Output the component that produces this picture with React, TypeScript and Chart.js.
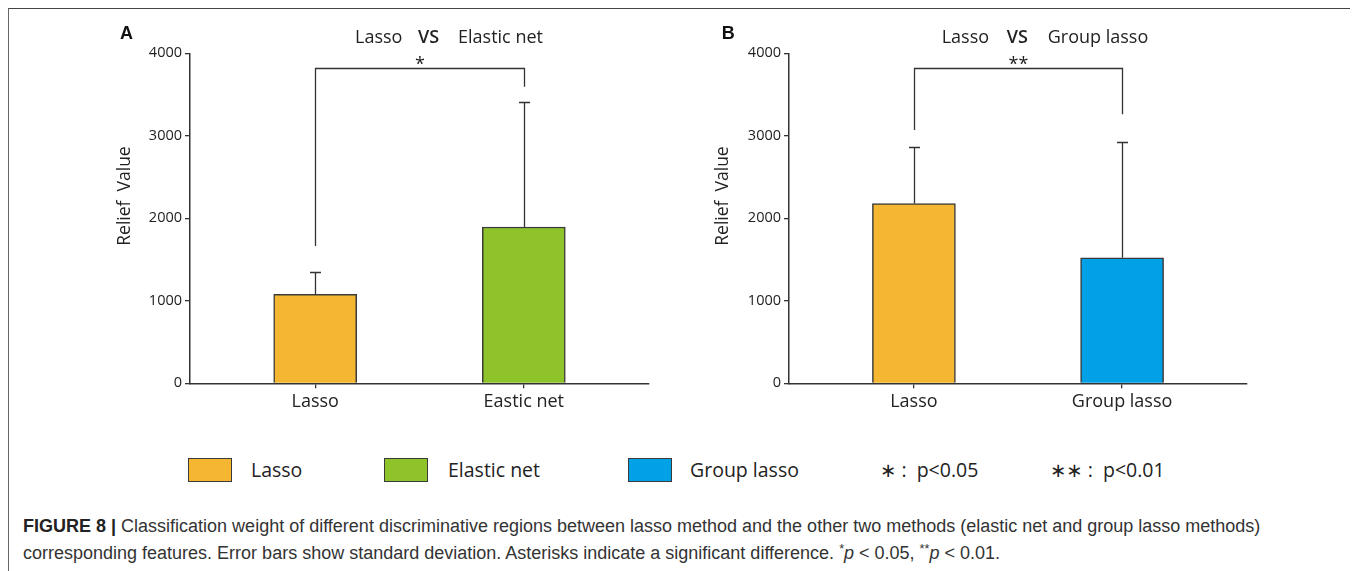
import React, { useEffect, useRef } from 'react';
import { Chart, registerables } from 'chart.js';

Chart.register(...registerables);

// ---------- data ----------
const yTicks = [0, 1000, 2000, 3000, 4000];
const yAxisTitle = 'Relief  Value';

const panelALetter = 'A';
const panelACategories = ['Lasso', 'Eastic net'];
const panelAMeans = [1079, 1895];
const panelASD = [274, 1511];
const panelAColors = ['#F5B731', '#8EC329'];
const panelATitle = ['Lasso', 'VS', 'Elastic net'];
const panelASig = '*';
const panelABracket = [3818, 1665, 3595]; // top, left end, right end

const panelBLetter = 'B';
const panelBCategories = ['Lasso', 'Group lasso'];
const panelBMeans = [2179, 1522];
const panelBSD = [685, 1403];
const panelBColors = ['#F5B731', '#00A1E6'];
const panelBTitle = ['Lasso', 'VS', 'Group lasso'];
const panelBSig = '**';
const panelBBracket = [3818, 3070, 3261];

const legendLabels = ['Lasso', 'Elastic net', 'Group lasso'];
const legendColors = ['#F5B731', '#8EC329', '#00A1E6'];
const sigNotes = ['\u2217 :  p<0.05', '\u2217\u2217 :  p<0.01'];

const captionLine1 =
  'Classification weight of different discriminative regions between lasso method and the other two methods (elastic net and group lasso methods)';

// ---------- layout ----------
const CANVAS_H = 420;
const AXIS_FONT = '"Open Sans", "DejaVu Sans", sans-serif';

const layoutA = {
  left: 0,
  width: 660,
  yAxisWidth: 181,
  padRight: 20,
  titleX: [346, 409, 449],
  letterX: 111,
  letterY: 29.7,
  yTitleX: 116,
};
const layoutB = {
  left: 660,
  width: 680,
  yAxisWidth: 120,
  padRight: 102,
  titleX: [272.7, 337.7, 378.7],
  letterX: 52.7,
  letterY: 30,
  yTitleX: 54,
};

const annotPlugin = {
  id: 'annot',
  afterDatasetsDraw(chart: any, _args: any, o: any) {
    const ctx = chart.ctx;
    const xs = chart.scales.x;
    const ys = chart.scales.y;
    ctx.save();
    ctx.strokeStyle = '#333';
    ctx.lineWidth = 1.3;
    // error bars (upper whisker)
    o.means.forEach((m: number, i: number) => {
      const px = Math.round(xs.getPixelForValue(i)) + 0.5;
      const y0 = ys.getPixelForValue(m);
      const y1 = Math.round(ys.getPixelForValue(m + o.sd[i])) + 0.5;
      ctx.beginPath();
      ctx.moveTo(px, y0);
      ctx.lineTo(px, y1);
      ctx.moveTo(px - 5.5, y1);
      ctx.lineTo(px + 5.5, y1);
      ctx.stroke();
    });
    // significance bracket
    const x0 = Math.round(xs.getPixelForValue(0)) + 0.5;
    const x1 = Math.round(xs.getPixelForValue(1)) + 0.5;
    const yt = Math.round(ys.getPixelForValue(o.bracket[0])) + 0.5;
    ctx.beginPath();
    ctx.moveTo(x0, ys.getPixelForValue(o.bracket[1]));
    ctx.lineTo(x0, yt);
    ctx.lineTo(x1, yt);
    ctx.lineTo(x1, ys.getPixelForValue(o.bracket[2]));
    ctx.stroke();

    ctx.fillStyle = '#222';
    ctx.textBaseline = 'alphabetic';
    ctx.textAlign = 'center';
    ctx.font = `18px ${AXIS_FONT}`;
    ctx.fillText(o.sig, (x0 + x1) / 2, yt + 1);

    // title pieces
    ctx.textAlign = 'left';
    o.title.forEach((t: string, i: number) => {
      ctx.font = i === 1 ? `600 18px ${AXIS_FONT}` : `18px ${AXIS_FONT}`;
      ctx.fillText(t, o.titleX[i], 33.7);
    });

    // panel letter
    ctx.font = 'bold 18px "Liberation Sans", Arial, sans-serif';
    ctx.fillStyle = '#111';
    ctx.fillText(o.letter, o.letterX, o.letterY);

    // y-axis title
    ctx.save();
    ctx.translate(o.yTitleX, 187);
    ctx.rotate(-Math.PI / 2);
    ctx.textAlign = 'center';
    ctx.textBaseline = 'middle';
    ctx.font = `17.5px ${AXIS_FONT}`;
    ctx.fillStyle = '#222';
    ctx.fillText(yAxisTitle, 0, 0);
    ctx.restore();

    ctx.restore();
  },
};

function Panel(props: any) {
  const { lay, cats, means, sd, colors, title, sig, bracket, letter } = props;
  const ref = useRef<HTMLCanvasElement | null>(null);
  useEffect(() => {
    const gridOpts = {
      display: true,
      drawOnChartArea: false,
      drawTicks: true,
      tickLength: 5,
      color: '#333',
      lineWidth: 1.3,
      offset: false,
    };
    const chart = new Chart(ref.current as HTMLCanvasElement, {
      type: 'bar',
      data: {
        datasets: [
          {
            data: means.map((m: number, i: number) => ({ x: i, y: m })),
            backgroundColor: colors,
            borderColor: '#3a3a3a',
            borderWidth: 1.5,
            barThickness: 83,
          } as any,
        ],
      },
      plugins: [annotPlugin as any],
      options: {
        responsive: false,
        animation: false,
        events: [],
        layout: { padding: { top: 44.3, right: lay.padRight, left: 0, bottom: 0 } },
        plugins: {
          legend: { display: false },
          tooltip: { enabled: false },
          annot: {
            means,
            sd,
            bracket,
            sig,
            title,
            titleX: lay.titleX,
            letter,
            letterX: lay.letterX,
            letterY: lay.letterY,
            yTitleX: lay.yTitleX,
          },
        } as any,
        scales: {
          x: {
            type: 'linear',
            offset: false,
            min: -0.6,
            max: 1.6,
            afterBuildTicks: (s: any) => {
              s.ticks = cats.map((_: string, i: number) => ({ value: i }));
            },
            afterFit: (s: any) => {
              s.height = CANVAS_H - 374.3;
            },
            grid: gridOpts,
            border: { display: true, color: '#333', width: 1.5 },
            ticks: {
              callback: (v: any) => cats[v] ?? '',
              font: { family: AXIS_FONT, size: 18 },
              color: '#222',
              padding: 3,
              maxRotation: 0,
              autoSkip: false,
            },
          },
          y: {
            min: 0,
            max: 4000,
            afterBuildTicks: (s: any) => {
              s.ticks = yTicks.map((v) => ({ value: v }));
            },
            afterFit: (s: any) => {
              s.width = lay.yAxisWidth;
            },
            grid: gridOpts,
            border: { display: true, color: '#333', width: 1.5 },
            ticks: {
              callback: (v: any) => String(v),
              font: { family: AXIS_FONT, size: 14.5 },
              color: '#222',
              padding: 3,
            },
          },
        } as any,
      },
    });
    return () => chart.destroy();
  }, []);
  return (
    <canvas
      ref={ref}
      width={lay.width}
      height={CANVAS_H}
      style={{ position: 'absolute', left: lay.left, top: 0, width: lay.width, height: CANVAS_H }}
    />
  );
}

const legendBoxX = [179, 375, 619];
const legendTextX = [242, 439, 681];
const sigNoteX = [871, 1041];

export default function App() {
  useEffect(() => {
    document.documentElement.style.overflow = 'hidden';
    document.body.style.overflow = 'hidden';
  }, []);
  const legendText: React.CSSProperties = {
    position: 'absolute',
    top: 449,
    height: 24,
    lineHeight: '24px',
    fontFamily: AXIS_FONT,
    fontSize: 19.5,
    color: '#222',
    whiteSpace: 'nowrap',
  };
  const sup: React.CSSProperties = { fontSize: '0.7em', verticalAlign: 'top', lineHeight: '18px' };
  return (
    <div
      style={{
        position: 'relative',
        width: 1346,
        height: 600,
        borderTop: '1px solid #444',
        borderLeft: '1px solid #666',
        borderRight: '2px solid #888',
        background: '#fff',
      }}
    >
      <Panel
        lay={layoutA}
        cats={panelACategories}
        means={panelAMeans}
        sd={panelASD}
        colors={panelAColors}
        title={panelATitle}
        sig={panelASig}
        bracket={panelABracket}
        letter={panelALetter}
      />
      <Panel
        lay={layoutB}
        cats={panelBCategories}
        means={panelBMeans}
        sd={panelBSD}
        colors={panelBColors}
        title={panelBTitle}
        sig={panelBSig}
        bracket={panelBBracket}
        letter={panelBLetter}
      />
      {legendLabels.map((l, i) => (
        <React.Fragment key={l}>
          <div
            style={{
              position: 'absolute',
              left: legendBoxX[i],
              top: 449,
              width: 44,
              height: 24,
              boxSizing: 'border-box',
              border: '1.5px solid #3a3a3a',
              background: legendColors[i],
            }}
          />
          <div style={{ ...legendText, left: legendTextX[i] }}>{l}</div>
        </React.Fragment>
      ))}
      {sigNotes.map((s, i) => (
        <div key={s} style={{ ...legendText, left: sigNoteX[i], whiteSpace: 'pre' }}>
          {s}
        </div>
      ))}
      <div
        style={{
          position: 'absolute',
          left: 14,
          top: 504,
          fontFamily: '"Liberation Sans", Arial, sans-serif',
          fontSize: 18,
          lineHeight: '27px',
          color: '#333',
          whiteSpace: 'nowrap',
        }}
      >
        <b style={{ color: '#222' }}>FIGURE 8 |</b> {captionLine1}
        <br />
        corresponding features. Error bars show standard deviation. Asterisks indicate a significant difference.{' '}
        <span style={sup}>*</span>
        <i>p</i> &lt; 0.05, <span style={sup}>**</span>
        <i>p</i> &lt; 0.01.
      </div>
    </div>
  );
}
